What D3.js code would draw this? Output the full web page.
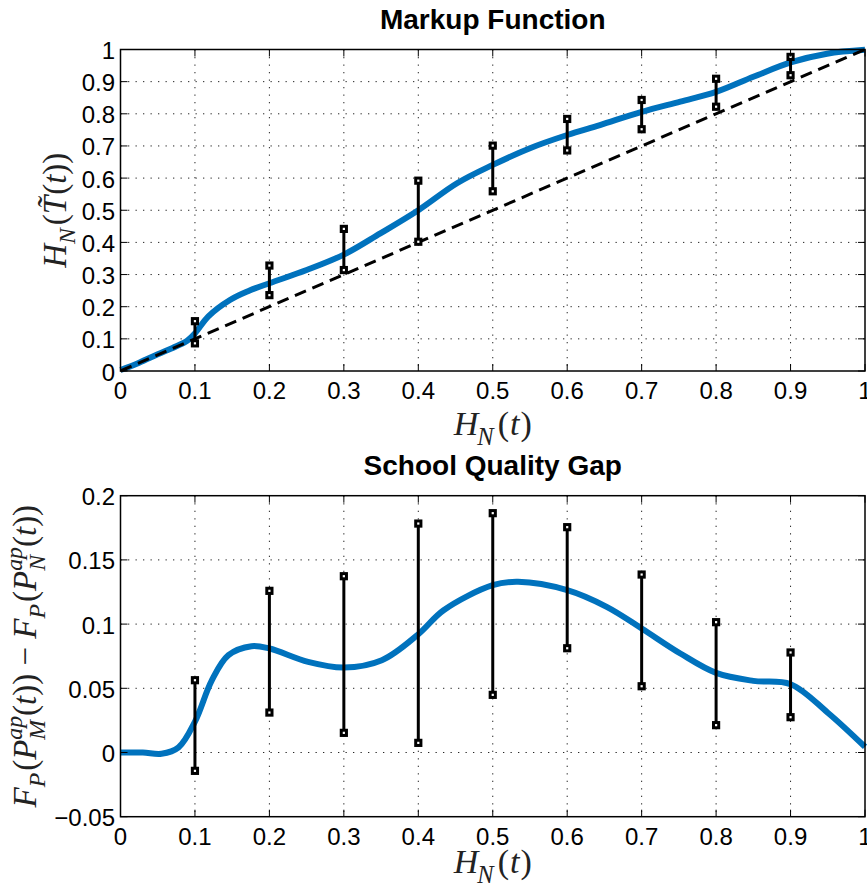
<!DOCTYPE html>
<html><head><meta charset="utf-8">
<script src="https://cdn.jsdelivr.net/npm/d3@7/dist/d3.min.js"></script>
<style>html,body{margin:0;padding:0;background:#fff}svg{display:block}</style>
</head><body>
<script>
// ---------- data ----------
const xTicks = [0, 0.1, 0.2, 0.3, 0.4, 0.5, 0.6, 0.7, 0.8, 0.9, 1];
const xTickLabels = ["0", "0.1", "0.2", "0.3", "0.4", "0.5", "0.6", "0.7", "0.8", "0.9", "1"];
const markupYTicks = [0, 0.1, 0.2, 0.3, 0.4, 0.5, 0.6, 0.7, 0.8, 0.9, 1];
const markupYTickLabels = ["0", "0.1", "0.2", "0.3", "0.4", "0.5", "0.6", "0.7", "0.8", "0.9", "1"];
const gapYTicks = [-0.05, 0, 0.05, 0.1, 0.15, 0.2];
const gapYTickLabels = ["\u22120.05", "0", "0.05", "0.1", "0.15", "0.2"];

const errX = [0.1, 0.2, 0.3, 0.4, 0.5, 0.6, 0.7, 0.8, 0.9];
const markupLow  = [0.086, 0.236, 0.314, 0.402, 0.559, 0.686, 0.752, 0.822, 0.920];
const markupHigh = [0.155, 0.328, 0.442, 0.592, 0.701, 0.784, 0.843, 0.909, 0.977];

const markupCurveX = [0, 0.025, 0.05, 0.075, 0.09, 0.1, 0.118, 0.147, 0.172, 0.2, 0.25, 0.3, 0.349, 0.4, 0.452, 0.5, 0.55, 0.6, 0.644, 0.7, 0.752, 0.8, 0.85, 0.9, 0.949, 1.0];
const markupCurveY = [0.003, 0.026, 0.052, 0.077, 0.095, 0.117, 0.170, 0.221, 0.249, 0.273, 0.314, 0.362, 0.428, 0.500, 0.584, 0.641, 0.693, 0.734, 0.765, 0.806, 0.838, 0.868, 0.915, 0.960, 0.987, 0.999];

const diagX = [0, 1];
const diagY = [0, 1];

const gapLow  = [-0.0143, 0.0311, 0.0153, 0.0075, 0.0449, 0.0812, 0.0516, 0.0213, 0.0275];
const gapHigh = [0.0563, 0.1259, 0.1373, 0.1783, 0.1864, 0.1755, 0.1386, 0.1015, 0.0779];

const gapCurveX = [0, 0.03, 0.055, 0.078, 0.1, 0.1225, 0.145, 0.176, 0.2, 0.252, 0.3, 0.351, 0.4, 0.434, 0.5, 0.534, 0.6, 0.653, 0.7, 0.752, 0.8, 0.85, 0.9, 0.95, 1.0];
const gapCurveY = [0, 0.0, -0.001, 0.004, 0.024, 0.056, 0.0758, 0.0828, 0.081, 0.0706, 0.0662, 0.0719, 0.0921, 0.1108, 0.1303, 0.1329, 0.1264, 0.1134, 0.0966, 0.0771, 0.062, 0.0558, 0.0532, 0.031, 0.0044];

// ---------- drawing ----------
const W = 867, H = 893;
const BLUE = "#0072BD";
const SANS = "'Liberation Sans', Arial, Helvetica, sans-serif";
const SERIF = "'Liberation Serif', 'Times New Roman', serif";

const svg = d3.select("body").append("svg").attr("width", W).attr("height", H);
svg.append("rect").attr("width", W).attr("height", H).attr("fill", "#fff");

function mathText(sel, segs, size) {
  let cur = 0, lastW = 0, supW = 0;
  segs.forEach(s => {
    const fs = s.pos === "base" ? size : size * 0.72;
    const target = s.pos === "sub" ? 0.28 * size : s.pos === "sup" ? -0.42 * size : 0;
    const ts = sel.append("tspan").text(s.t)
      .attr("font-size", fs)
      .attr("font-style", s.it ? "italic" : "normal")
      .attr("dy", target - cur);
    let dx = s.dx || 0;
    if (s.stack) dx += -lastW;
    if (s.afterStack) dx += Math.max(0, supW - lastW);
    if (dx) ts.attr("dx", dx);
    cur = target;
    const w = ts.node().getComputedTextLength();
    if (s.pos === "sup") supW = w;
    lastW = w;
  });
}

function panel(cfg) {
  const x = d3.scaleLinear().domain([0, 1]).range([cfg.left, cfg.right]);
  const y = d3.scaleLinear().domain(cfg.yDomain).range([cfg.bottom, cfg.top]);
  const g = svg.append("g");

  // grid
  const grid = g.append("g").attr("stroke", "#262626").attr("stroke-width", 1).attr("stroke-dasharray", "1.3,6.2");
  xTicks.forEach(t => {
    if (t <= 0 || t >= 1) return;
    grid.append("line").attr("x1", x(t)).attr("x2", x(t)).attr("y1", cfg.top).attr("y2", cfg.bottom);
  });
  cfg.yTicks.forEach((t, i) => {
    if (i === 0 || i === cfg.yTicks.length - 1) return;
    grid.append("line").attr("x1", cfg.left).attr("x2", cfg.right).attr("y1", y(t)).attr("y2", y(t));
  });

  // blue curve
  const line = d3.line().x(d => x(d[0])).y(d => y(d[1])).curve(d3.curveCatmullRom.alpha(0.5));
  g.append("path").datum(d3.zip(cfg.curveX, cfg.curveY)).attr("d", line)
    .attr("fill", "none").attr("stroke", BLUE).attr("stroke-width", 6)
    .attr("stroke-linejoin", "round");

  // dashed diagonal
  if (cfg.diag) {
    g.append("path").datum(d3.zip(diagX, diagY)).attr("d", d3.line().x(d => x(d[0])).y(d => y(d[1])))
      .attr("fill", "none").attr("stroke", "#000").attr("stroke-width", 3)
      .attr("stroke-dasharray", "12,7");
  }

  // error bars
  const eb = g.append("g");
  errX.forEach((xv, i) => {
    eb.append("line").attr("x1", x(xv)).attr("x2", x(xv))
      .attr("y1", y(cfg.low[i])).attr("y2", y(cfg.high[i]))
      .attr("stroke", "#000").attr("stroke-width", 3);
    [cfg.low[i], cfg.high[i]].forEach(v => {
      eb.append("rect").attr("x", x(xv) - 2.6).attr("y", y(v) - 2.6)
        .attr("width", 5.2).attr("height", 5.2)
        .attr("fill", "#fff").attr("stroke", "#000").attr("stroke-width", 3);
    });
  });

  // ticks (inside, all sides)
  const tk = g.append("g").attr("stroke", "#000").attr("stroke-width", 1);
  const TL = 7;
  xTicks.forEach(t => {
    tk.append("line").attr("x1", x(t)).attr("x2", x(t)).attr("y1", cfg.bottom).attr("y2", cfg.bottom - TL);
    tk.append("line").attr("x1", x(t)).attr("x2", x(t)).attr("y1", cfg.top).attr("y2", cfg.top + TL);
  });
  cfg.yTicks.forEach(t => {
    tk.append("line").attr("x1", cfg.left).attr("x2", cfg.left + TL).attr("y1", y(t)).attr("y2", y(t));
    tk.append("line").attr("x1", cfg.right).attr("x2", cfg.right - TL).attr("y1", y(t)).attr("y2", y(t));
  });

  // box
  g.append("rect").attr("x", cfg.left).attr("y", cfg.top)
    .attr("width", cfg.right - cfg.left).attr("height", cfg.bottom - cfg.top)
    .attr("fill", "none").attr("stroke", "#000").attr("stroke-width", 1.5);

  // tick labels
  const lab = g.append("g").attr("font-family", SANS).attr("font-size", 24).attr("fill", "#000");
  xTicks.forEach((t, i) => {
    lab.append("text").attr("x", x(t)).attr("y", cfg.bottom + 28)
      .attr("text-anchor", "middle").text(xTickLabels[i]);
  });
  cfg.yTicks.forEach((t, i) => {
    lab.append("text").attr("x", cfg.left - 5.5).attr("y", y(t) + 9.5)
      .attr("text-anchor", "end").text(cfg.yTickLabels[i]);
  });

  // title
  g.append("text").attr("x", (cfg.left + cfg.right) / 2).attr("y", cfg.top - 20.5)
    .attr("text-anchor", "middle").attr("font-family", SANS).attr("font-weight", "bold")
    .attr("font-size", 28).text(cfg.title);

  // x label
  const xl = g.append("text").attr("x", (cfg.left + cfg.right) / 2).attr("y", cfg.xLabelY)
    .attr("text-anchor", "middle").attr("font-family", SERIF).attr("fill", "#222");
  mathText(xl, [
    { t: "H", it: true, pos: "base" },
    { t: "N", it: true, pos: "sub", dx: -1 },
    { t: "(", pos: "base", dx: 4 },
    { t: "t", it: true, pos: "base", dx: 1 },
    { t: ")", pos: "base", dx: 1 }
  ], 34);

  // y label
  const yl = g.append("text").attr("transform", `translate(${cfg.yLabelX},${(cfg.top + cfg.bottom) / 2}) rotate(-90)`)
    .attr("text-anchor", "middle").attr("font-family", SERIF).attr("fill", "#222");
  mathText(yl, cfg.yLabelSegs, 33);
}

panel({
  left: 120.5, right: 865, top: 49.5, bottom: 371,
  yDomain: [0, 1], yTicks: markupYTicks, yTickLabels: markupYTickLabels,
  curveX: markupCurveX, curveY: markupCurveY, diag: true,
  low: markupLow, high: markupHigh,
  title: "Markup Function", xLabelY: 435, yLabelX: 66,
  yLabelSegs: [
    { t: "H", it: true, pos: "base" },
    { t: "N", it: true, pos: "sub" },
    { t: "(", pos: "base", dx: 3 },
    { t: "T\u0303", it: true, pos: "base" },
    { t: "(", pos: "base", dx: 1 },
    { t: "t", it: true, pos: "base" },
    { t: "))", pos: "base" }
  ]
});

panel({
  left: 120.5, right: 865, top: 495.7, bottom: 816.7,
  yDomain: [-0.05, 0.2], yTicks: gapYTicks, yTickLabels: gapYTickLabels,
  curveX: gapCurveX, curveY: gapCurveY, diag: false,
  low: gapLow, high: gapHigh,
  title: "School Quality Gap", xLabelY: 873, yLabelX: 36,
  yLabelSegs: [
    { t: "F", it: true, pos: "base" },
    { t: "P", it: true, pos: "sub" },
    { t: "(", pos: "base", dx: 2 },
    { t: "P", it: true, pos: "base" },
    { t: "ap", it: true, pos: "sup" },
    { t: "M", it: true, pos: "sub", stack: true },
    { t: "(", pos: "base", afterStack: true },
    { t: "t", it: true, pos: "base" },
    { t: ")) \u2212 ", pos: "base" },
    { t: "F", it: true, pos: "base" },
    { t: "P", it: true, pos: "sub" },
    { t: "(", pos: "base", dx: 2 },
    { t: "P", it: true, pos: "base" },
    { t: "ap", it: true, pos: "sup" },
    { t: "N", it: true, pos: "sub", stack: true },
    { t: "(", pos: "base", afterStack: true },
    { t: "t", it: true, pos: "base" },
    { t: "))", pos: "base" }
  ]
});
</script>
</body></html>
